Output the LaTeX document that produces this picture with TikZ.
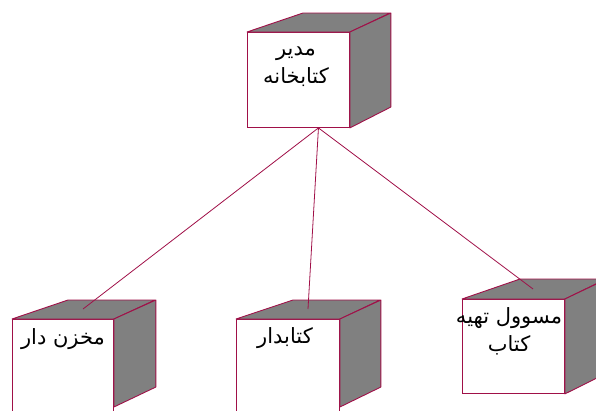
\documentclass[tikz,border=0pt]{standalone}
\usepackage{fontspec}
\newfontfamily\arabicfont[Script=Arabic]{DejaVu Sans}
\TeXXeTstate=1
\usetikzlibrary{positioning}

\definecolor{edge}{RGB}{160,16,72}
\definecolor{shade}{RGB}{128,128,128}

\tikzset{
	face/.style={draw=edge, fill=white, line width=0.9pt, inner sep=0pt, anchor=north west},
	side/.style={draw=edge, fill=shade, line width=0.9pt, line join=round},
	link/.style={draw=edge, line width=0.8pt},
	role/.style={font=\arabicfont\fontsize{21}{28}\selectfont, align=center, inner sep=0pt}
}

\begin{document}
\begin{tikzpicture}[x=1pt,y=-1pt]
		\useasboundingbox (0,0) rectangle (596,410);
		
		% top box
		\node[face, minimum width=102pt, minimum height=95pt] (modir) at (247,32) {};
		\filldraw[side] (modir.north west) -- ++(56,-19) -- ++(87,0) -- (modir.north east) -- cycle;
		\filldraw[side] (modir.north east) -- ++(41,-19) -- ++(0,94) -- (modir.south east) -- cycle;
		\node[role] (modir-txt) at (296,67) {\beginR مدیر\endR\\\beginR کتابخانه\endR};
		
		% lower boxes
		\node[face, minimum width=101pt, minimum height=100pt] (anbar) at (12,319) {};
		\filldraw[side] (anbar.north west) -- ++(56,-19) -- ++(87,0) -- (anbar.north east) -- cycle;
		\filldraw[side] (anbar.north east) -- ++(42,-19) -- ++(0,87) -- ++(-42,20) -- cycle;
		\node[role] (anbar-txt) at (63,339) {\beginR مخزن دار\endR};
		
		\node[face, minimum width=103pt, minimum height=100pt] (ketabdar) at (236,319) {};
		\filldraw[side] (ketabdar.north west) -- ++(57,-19) -- ++(87,0) -- (ketabdar.north east) -- cycle;
		\filldraw[side] (ketabdar.north east) -- ++(41,-19) -- ++(0,87) -- ++(-41,20) -- cycle;
		\node[role] (ketabdar-txt) at (285,338) {\beginR کتابدار\endR};
		
		\node[face, minimum width=102pt, minimum height=94pt] (tahie) at (462,299) {};
		\filldraw[side] (tahie.north west) -- ++(58,-20) -- ++(86,0) -- (tahie.north east) -- cycle;
		\filldraw[side] (tahie.north east) -- ++(42,-20) -- ++(0,94) -- (tahie.south east) -- cycle;
		\node[role] (tahie-txt) at (509,331) {\beginR مسوول تهیه\endR\\\beginR کتاب\endR};
		
		% links
		\coordinate (hub) at ([xshift=20pt]modir.south);
		\coordinate (anbar-top) at (83,309);
		\coordinate (ketabdar-top) at (308,309);
		\coordinate (tahie-top) at (533,289);
		\draw[link] (hub) -- (anbar-top);
		\draw[link] (hub) -- (ketabdar-top);
		\draw[link] (hub) -- (tahie-top);
\end{tikzpicture}
\end{document}
